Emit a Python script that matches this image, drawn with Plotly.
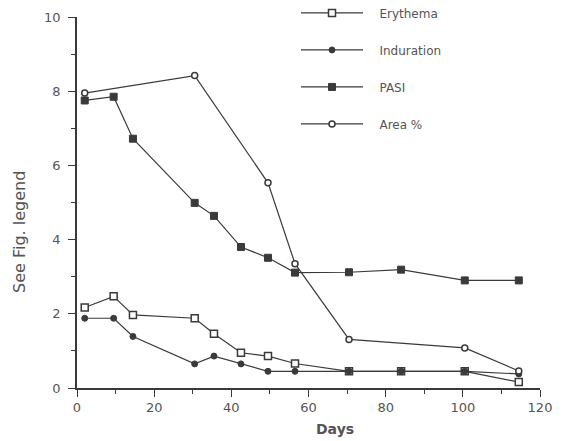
import plotly.graph_objects as go

days_ery = [2, 9.5, 14.5, 30.5, 35.5, 42.5, 49.5, 56.5, 70.5, 84, 100.5, 114.5]
erythema = [2.17, 2.47, 1.97, 1.88, 1.46, 0.95, 0.86, 0.66, 0.45, 0.45, 0.45, 0.16]

days_ind = [2, 9.5, 14.5, 30.5, 35.5, 42.5, 49.5, 56.5, 70.5, 84, 100.5, 114.5]
induration = [1.88, 1.88, 1.39, 0.65, 0.86, 0.65, 0.45, 0.45, 0.45, 0.45, 0.45, 0.38]

days_pasi = [2, 9.5, 14.5, 30.5, 35.5, 42.5, 49.5, 56.5, 70.5, 84, 100.5, 114.5]
pasi = [7.75, 7.85, 6.72, 4.99, 4.64, 3.8, 3.51, 3.11, 3.12, 3.19, 2.9, 2.9]

days_area = [2, 30.5, 49.5, 56.5, 70.5, 100.5, 114.5]
area = [7.95, 8.42, 5.53, 3.35, 1.31, 1.08, 0.46]

x_ticks = [0, 20, 40, 60, 80, 100, 120]
y_ticks = [0, 2, 4, 6, 8, 10]

LINE = "#3a3a3a"
TXT = "#555555"
FONT = "DejaVu Sans, Verdana, sans-serif"
PAD = "\u00a0\u00a0\u00a0"

fig = go.Figure()
series = [
    ("Erythema", days_ery, erythema, dict(symbol="square", size=7, color="white", line=dict(color=LINE, width=1.5))),
    ("Induration", days_ind, induration, dict(symbol="circle", size=6, color=LINE, line=dict(color=LINE, width=1))),
    ("PASI", days_pasi, pasi, dict(symbol="square", size=7, color=LINE, line=dict(color=LINE, width=1))),
    ("Area %", days_area, area, dict(symbol="circle", size=6, color="white", line=dict(color=LINE, width=1.5))),
]
for name, xs, ys, mk in series:
    fig.add_trace(go.Scatter(x=xs, y=ys, name=PAD + name, mode="lines+markers",
                             line=dict(color=LINE, width=1.2), marker=mk,
                             legendgroup=name))

fig.update_layout(
    width=567, height=441,
    margin=dict(l=77, r=27, t=17, b=53, autoexpand=False),
    paper_bgcolor="white", plot_bgcolor="white",
    font=dict(family=FONT, size=12, color=TXT),
    showlegend=True,
    legend=dict(x=(296 - 77) / 463, y=1.05, xanchor="left", yanchor="top",
                bgcolor="rgba(0,0,0,0)", itemwidth=62, tracegroupgap=18,
                font=dict(family=FONT, size=12, color=TXT)),
    xaxis=dict(range=[0, 120], tickvals=x_ticks, ticks="outside", ticklen=7,
               tickcolor=LINE, showline=True, linecolor=LINE, linewidth=1.5,
               showgrid=False, zeroline=False, automargin=False,
               minor=dict(dtick=10, ticks="outside", ticklen=4, tickcolor=LINE),
               tickfont=dict(family=FONT, size=13, color=TXT)),
    yaxis=dict(range=[0, 10], tickvals=y_ticks, ticks="outside", ticklen=7,
               tickcolor=LINE, showline=True, linecolor=LINE, linewidth=1.5,
               showgrid=False, zeroline=False, automargin=False,
               ticklabelstandoff=5,
               minor=dict(dtick=1, ticks="outside", ticklen=4, tickcolor=LINE),
               tickfont=dict(family=FONT, size=13, color=TXT)),
    annotations=[
        dict(text="<b>Days</b>", xref="paper", yref="paper",
             x=(335 - 77) / 463, y=-(429 - 388) / 371, xanchor="center", yanchor="middle",
             showarrow=False, font=dict(family=FONT, size=14, color=TXT)),
        dict(text="See Fig. legend", xref="paper", yref="paper", textangle=-90,
             x=-(77 - 19) / 463, y=(388 - 232) / 371, xanchor="center", yanchor="middle",
             showarrow=False, font=dict(family=FONT, size=16, color=TXT)),
    ],
)

fig.write_html("out.html", config={"displayModeBar": False},
               post_script="document.body.style.margin='0';")
